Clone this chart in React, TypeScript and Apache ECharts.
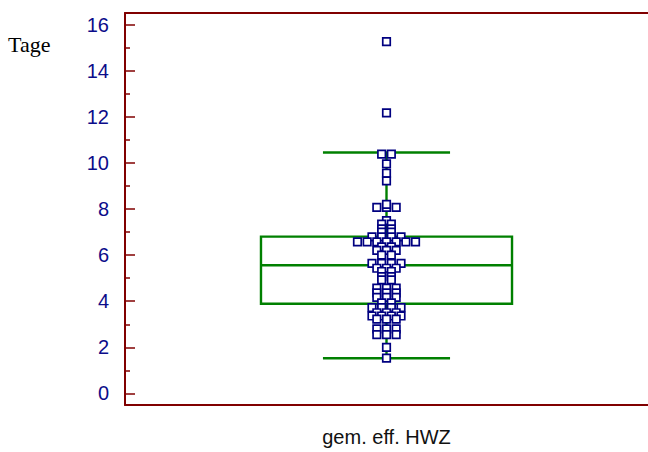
import React, { useEffect, useRef } from "react";
import * as echarts from "echarts";

// Observed values, one entry per row of equal (or nearly equal) values
const ROW_VALUES = [
  15.26, 12.17, 10.38, 9.96, 9.55, 9.22, 8.07, 8.2, 7.5, 7.34, 7.14, 7.0,
  6.79, 6.57, 6.36, 6.21, 6.0, 5.64, 5.43, 5.29, 5.07, 4.93, 4.57, 4.36,
  4.17, 3.93, 3.72, 3.5, 3.36, 3.22, 2.8, 2.55, 2.0, 1.53,
];
// How many observations share each row value
const ROW_COUNTS = [
  1, 1, 2, 1, 1, 1, 3, 1, 1, 2, 2, 2, 4, 7, 2, 3, 2, 4, 3, 2, 2, 2, 3, 3, 3,
  2, 4, 3, 4, 3, 3, 3, 1, 1,
];

// Lower whisker, Q1, median, Q3, upper whisker
const BOX_STATS = [1.53, 3.89, 5.56, 6.8, 10.45];

const Y_TICKS = [0, 2, 4, 6, 8, 10, 12, 14, 16];
const Y_MINOR_TICKS = [1, 3, 5, 7, 9, 11, 13, 15];

const CATEGORY_NAME = "gem. eff. HWZ";
const UNIT_LABEL = "Tage";

const BOX_HALF = 0.48;
const CAP_HALF = 0.243;
const DOT_STEP = 0.037;

const FRAME = "#800000";
const GREEN = "#008000";
const NAVY = "#000080";
const SANS = "Arial, 'Liberation Sans', sans-serif";

export default function App() {
  const ref = useRef<HTMLDivElement>(null);

  useEffect(() => {
    if (!ref.current) return;
    const chart = echarts.init(ref.current, undefined, { renderer: "svg" });

    // Spread tied observations side by side around the box centre
    const points: number[][] = [];
    ROW_VALUES.forEach((v, r) => {
      const n = ROW_COUNTS[r];
      for (let i = 0; i < n; i++) {
        points.push([(i - (n - 1) / 2) * DOT_STEP, v]);
      }
    });

    const frameLine = {
      show: true,
      onZero: false,
      lineStyle: { color: FRAME, width: 2 },
    };

    const option: echarts.EChartsOption = {
      animation: false,
      backgroundColor: "#ffffff",
      grid: { left: 125, right: 0, top: 13, bottom: 40 },
      xAxis: [
        {
          type: "value",
          position: "bottom",
          min: -1,
          max: 1,
          axisLine: frameLine,
          axisTick: { show: false },
          axisLabel: { show: false },
          splitLine: { show: false },
          name: CATEGORY_NAME,
          nameLocation: "middle",
          nameGap: 22,
          nameTextStyle: { fontSize: 20, color: "#111111", fontFamily: SANS },
        },
        {
          type: "value",
          position: "top",
          min: -1,
          max: 1,
          axisLine: frameLine,
          axisTick: { show: false },
          axisLabel: { show: false },
          splitLine: { show: false },
        },
      ],
      yAxis: [
        {
          type: "value",
          position: "left",
          min: -0.5,
          max: 16.5,
          axisLine: frameLine,
          axisTick: {
            show: true,
            inside: true,
            length: 10,
            customValues: Y_TICKS,
            lineStyle: { color: FRAME, width: 1.5 },
          },
          axisLabel: {
            customValues: Y_TICKS,
            color: "#0c0c8a",
            fontSize: 20,
            fontFamily: SANS,
            margin: 16,
          },
          splitLine: { show: false },
        },
        {
          type: "value",
          position: "left",
          min: -0.5,
          max: 16.5,
          axisLine: { show: false, onZero: false },
          axisTick: {
            show: true,
            inside: true,
            length: 5,
            customValues: Y_MINOR_TICKS,
            lineStyle: { color: FRAME, width: 1.5 },
          },
          axisLabel: { show: false },
          splitLine: { show: false },
        },
      ],
      graphic: [
        {
          type: "text",
          left: 8,
          top: 33,
          style: {
            text: UNIT_LABEL,
            fontSize: 22,
            fontFamily: "'Liberation Serif', 'Times New Roman', serif",
            fill: "#000000",
          },
        },
      ],
      series: [
        {
          type: "custom",
          xAxisIndex: 0,
          yAxisIndex: 0,
          z: 2,
          encode: { x: 0, y: [1, 2, 3, 4, 5] },
          data: [[0, ...BOX_STATS]],
          renderItem: (params: any, api: any) => {
            const x = api.value(0);
            const lo = api.value(1);
            const q1 = api.value(2);
            const med = api.value(3);
            const q3 = api.value(4);
            const hi = api.value(5);
            const pLeft = api.coord([x - BOX_HALF, q3]);
            const pRight = api.coord([x + BOX_HALF, q1]);
            const style = { stroke: GREEN, lineWidth: 2.4, fill: "none" };
            const seg = (a: number[], b: number[]) => ({
              type: "line",
              shape: { x1: a[0], y1: a[1], x2: b[0], y2: b[1] },
              style,
            });
            return {
              type: "group",
              children: [
                {
                  type: "rect",
                  shape: {
                    x: pLeft[0],
                    y: pLeft[1],
                    width: pRight[0] - pLeft[0],
                    height: pRight[1] - pLeft[1],
                  },
                  style,
                },
                seg(api.coord([x - BOX_HALF, med]), api.coord([x + BOX_HALF, med])),
                seg(api.coord([x, q3]), api.coord([x, hi])),
                seg(api.coord([x, q1]), api.coord([x, lo])),
                seg(api.coord([x - CAP_HALF, hi]), api.coord([x + CAP_HALF, hi])),
                seg(api.coord([x - CAP_HALF, lo]), api.coord([x + CAP_HALF, lo])),
              ],
            };
          },
        },
        {
          type: "scatter",
          xAxisIndex: 0,
          yAxisIndex: 0,
          z: 5,
          symbol: "rect",
          symbolSize: 7.5,
          itemStyle: { color: "#ffffff", borderColor: NAVY, borderWidth: 1.7, opacity: 1 },
          data: points,
        },
      ],
    };

    chart.setOption(option);
    return () => chart.dispose();
  }, []);

  return (
    <div
      ref={ref}
      style={{ position: "fixed", left: 0, top: 0, width: 648, height: 452 }}
    />
  );
}
